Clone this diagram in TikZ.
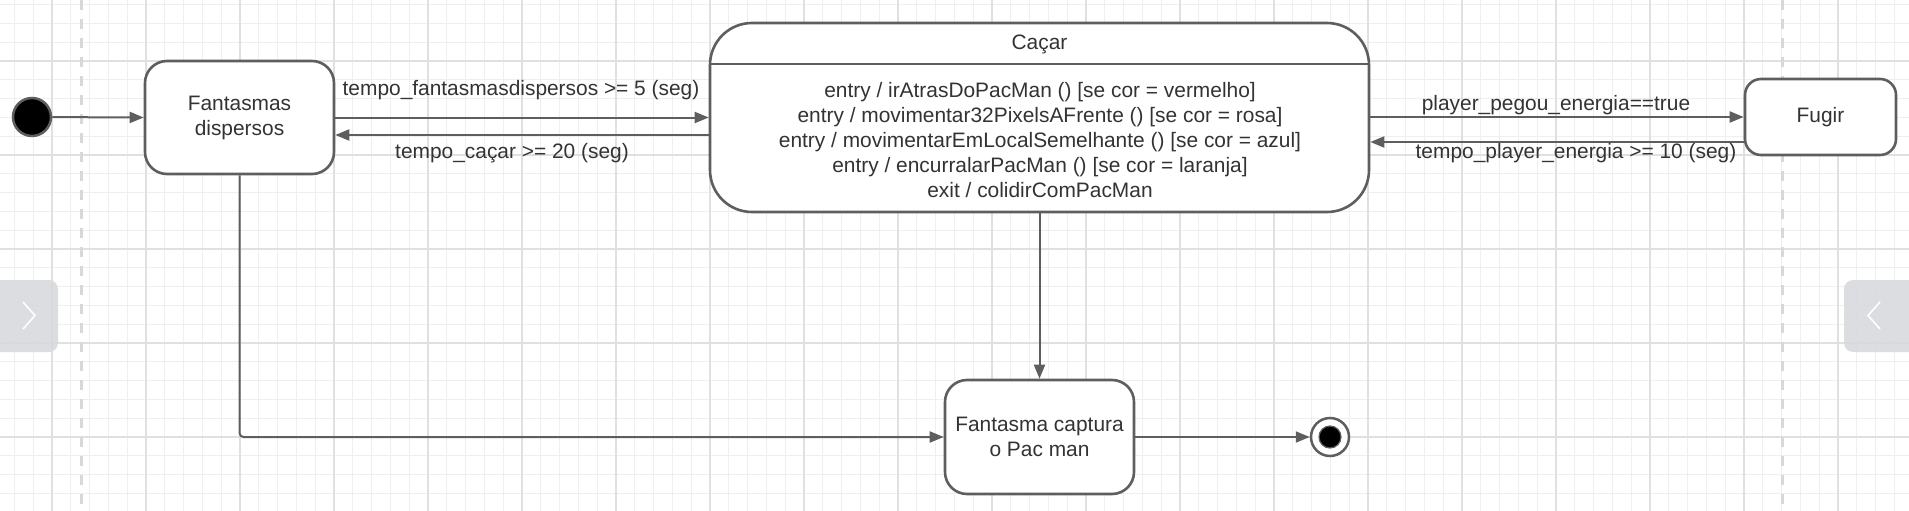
\documentclass[tikz,border=0pt]{standalone}
\usepackage{fontspec}
\setmainfont{Liberation Sans}
\usetikzlibrary{arrows.meta}
\definecolor{ln}{HTML}{5E5E5E}
\definecolor{tx}{HTML}{333333}
\definecolor{gmin}{HTML}{EFEFEF}
\definecolor{gmaj}{HTML}{E0E0E0}
\definecolor{dsh}{HTML}{D8D8D8}
\definecolor{pan}{HTML}{D6D8DB}
\begin{document}
\begin{tikzpicture}[x=1pt,y=-1pt,
  every node/.style={font=\fontsize{20.9}{25}\selectfont, text=tx},
  statebox/.style={draw=ln, line width=2.6pt, fill=white, inner sep=0pt, align=center},
  conn/.style={draw=ln, line width=2pt, -{Triangle[length=14pt,width=11pt]}},
  lbl/.style={inner sep=0pt, anchor=center},
  grid minor/.style={gmin, line width=1pt},
  grid major/.style={gmaj, line width=1.3pt},
  lane/.style={dsh, line width=3pt, dash pattern=on 10pt off 9pt},
  panel/.style={fill=pan, fill opacity=0.85, draw=none},
  chev/.style={white, line width=1.6pt}
]
\useasboundingbox (0,0) rectangle (1909,511);
\clip (0,0) rectangle (1909,511);
\fill[white] (0,0) rectangle (1909,511);
% grid
\foreach \i in {0,...,102} \draw[grid minor] ({-4.4+18.8*\i},0) -- ({-4.4+18.8*\i},511);
\foreach \j in {0,...,27} \draw[grid minor] (0,{4.6+18.8*\j}) -- (1909,{4.6+18.8*\j});
\foreach \i in {0,...,20} \draw[grid major] ({-42+94*\i},0) -- ({-42+94*\i},511);
\foreach \j in {0,...,5} \draw[grid major] (0,{-33+94*\j}) -- (1909,{-33+94*\j});
% lanes
\draw[lane] (81,0) -- (81,511);
\draw[lane] (1782,0) -- (1782,511);
% side panels
\fill[panel, rounded corners=9pt] (-20,280) rectangle (58,352);
\draw[chev] (23,302) -- (35,315.5) -- (23,329);
\fill[panel, rounded corners=9pt] (1844,280) rectangle (1930,352);
\draw[chev] (1880,302) -- (1868,315.5) -- (1880,329);

% states
\node[circle, draw=ln, line width=2.5pt, fill=black, minimum size=38pt, inner sep=0pt] (init) at (32,117) {};
\node[statebox, rounded corners=22pt, minimum width=189pt, minimum height=113pt] (fd) at (239.5,117.5) {Fantasmas\\dispersos};
\node[statebox, rounded corners=42pt, minimum width=659pt, minimum height=189pt] (cacar) at (1039.5,117.5) {};
\coordinate (hl) at (0,64);
\draw[ln, line width=2.6pt] (cacar.west |- hl) -- (cacar.east |- hl);
\node[lbl] (ctitle) at (1039.5,44.5) {Caçar};
\node[lbl, align=center] (cbody) at (1040,140.5) {entry / irAtrasDoPacMan () [se cor = vermelho]\\
entry / movimentar32PixelsAFrente () [se cor = rosa]\\
entry / movimentarEmLocalSemelhante () [se cor = azul]\\
entry / encurralarPacMan () [se cor = laranja]\\
exit / colidirComPacMan};
\node[statebox, rounded corners=16pt, minimum width=151pt, minimum height=76pt] (fugir) at (1820.5,117) {Fugir};
\node[statebox, rounded corners=22pt, minimum width=189pt, minimum height=114pt] (cap) at (1039.5,437) {Fantasma captura\\o Pac man};
\node[circle, draw=ln, line width=2.5pt, fill=white, minimum size=38pt, inner sep=0pt] (fin) at (1330,437) {};
\node[circle, draw=ln, line width=1.2pt, fill=black, minimum size=22pt, inner sep=0pt] (finin) at (fin) {};

% transitions
\draw[conn] (init) -- (fd.west);
\draw[conn] (fd.east) -- (cacar.west |- fd.east);
\node[lbl] (l1) at (521,90) {tempo\_fantasmasdispersos >= 5 (seg)};
\draw[conn] ([yshift=-17.5pt]cacar.west) -- ([yshift=-17.5pt]fd.east);
\node[lbl] (l2) at (512,153) {tempo\_caçar >= 20 (seg)};
\draw[conn] (cacar.east |- fugir.west) -- (fugir.west);
\node[lbl] (l3) at (1556,105) {player\_pegou\_energia==true};
\draw[conn] ([yshift=-25pt]fugir.west) -- ([yshift=-25pt]fugir.west -| cacar.east);
\node[lbl] (l4) at (1576,153) {tempo\_player\_energia >= 10 (seg)};
\draw[conn] (cacar.south) -- (cap.north);
\draw[conn, rounded corners=4pt] (fd.south) |- (cap.west);
\draw[conn] (cap.east) -- (fin.west);
\end{tikzpicture}
\end{document}
